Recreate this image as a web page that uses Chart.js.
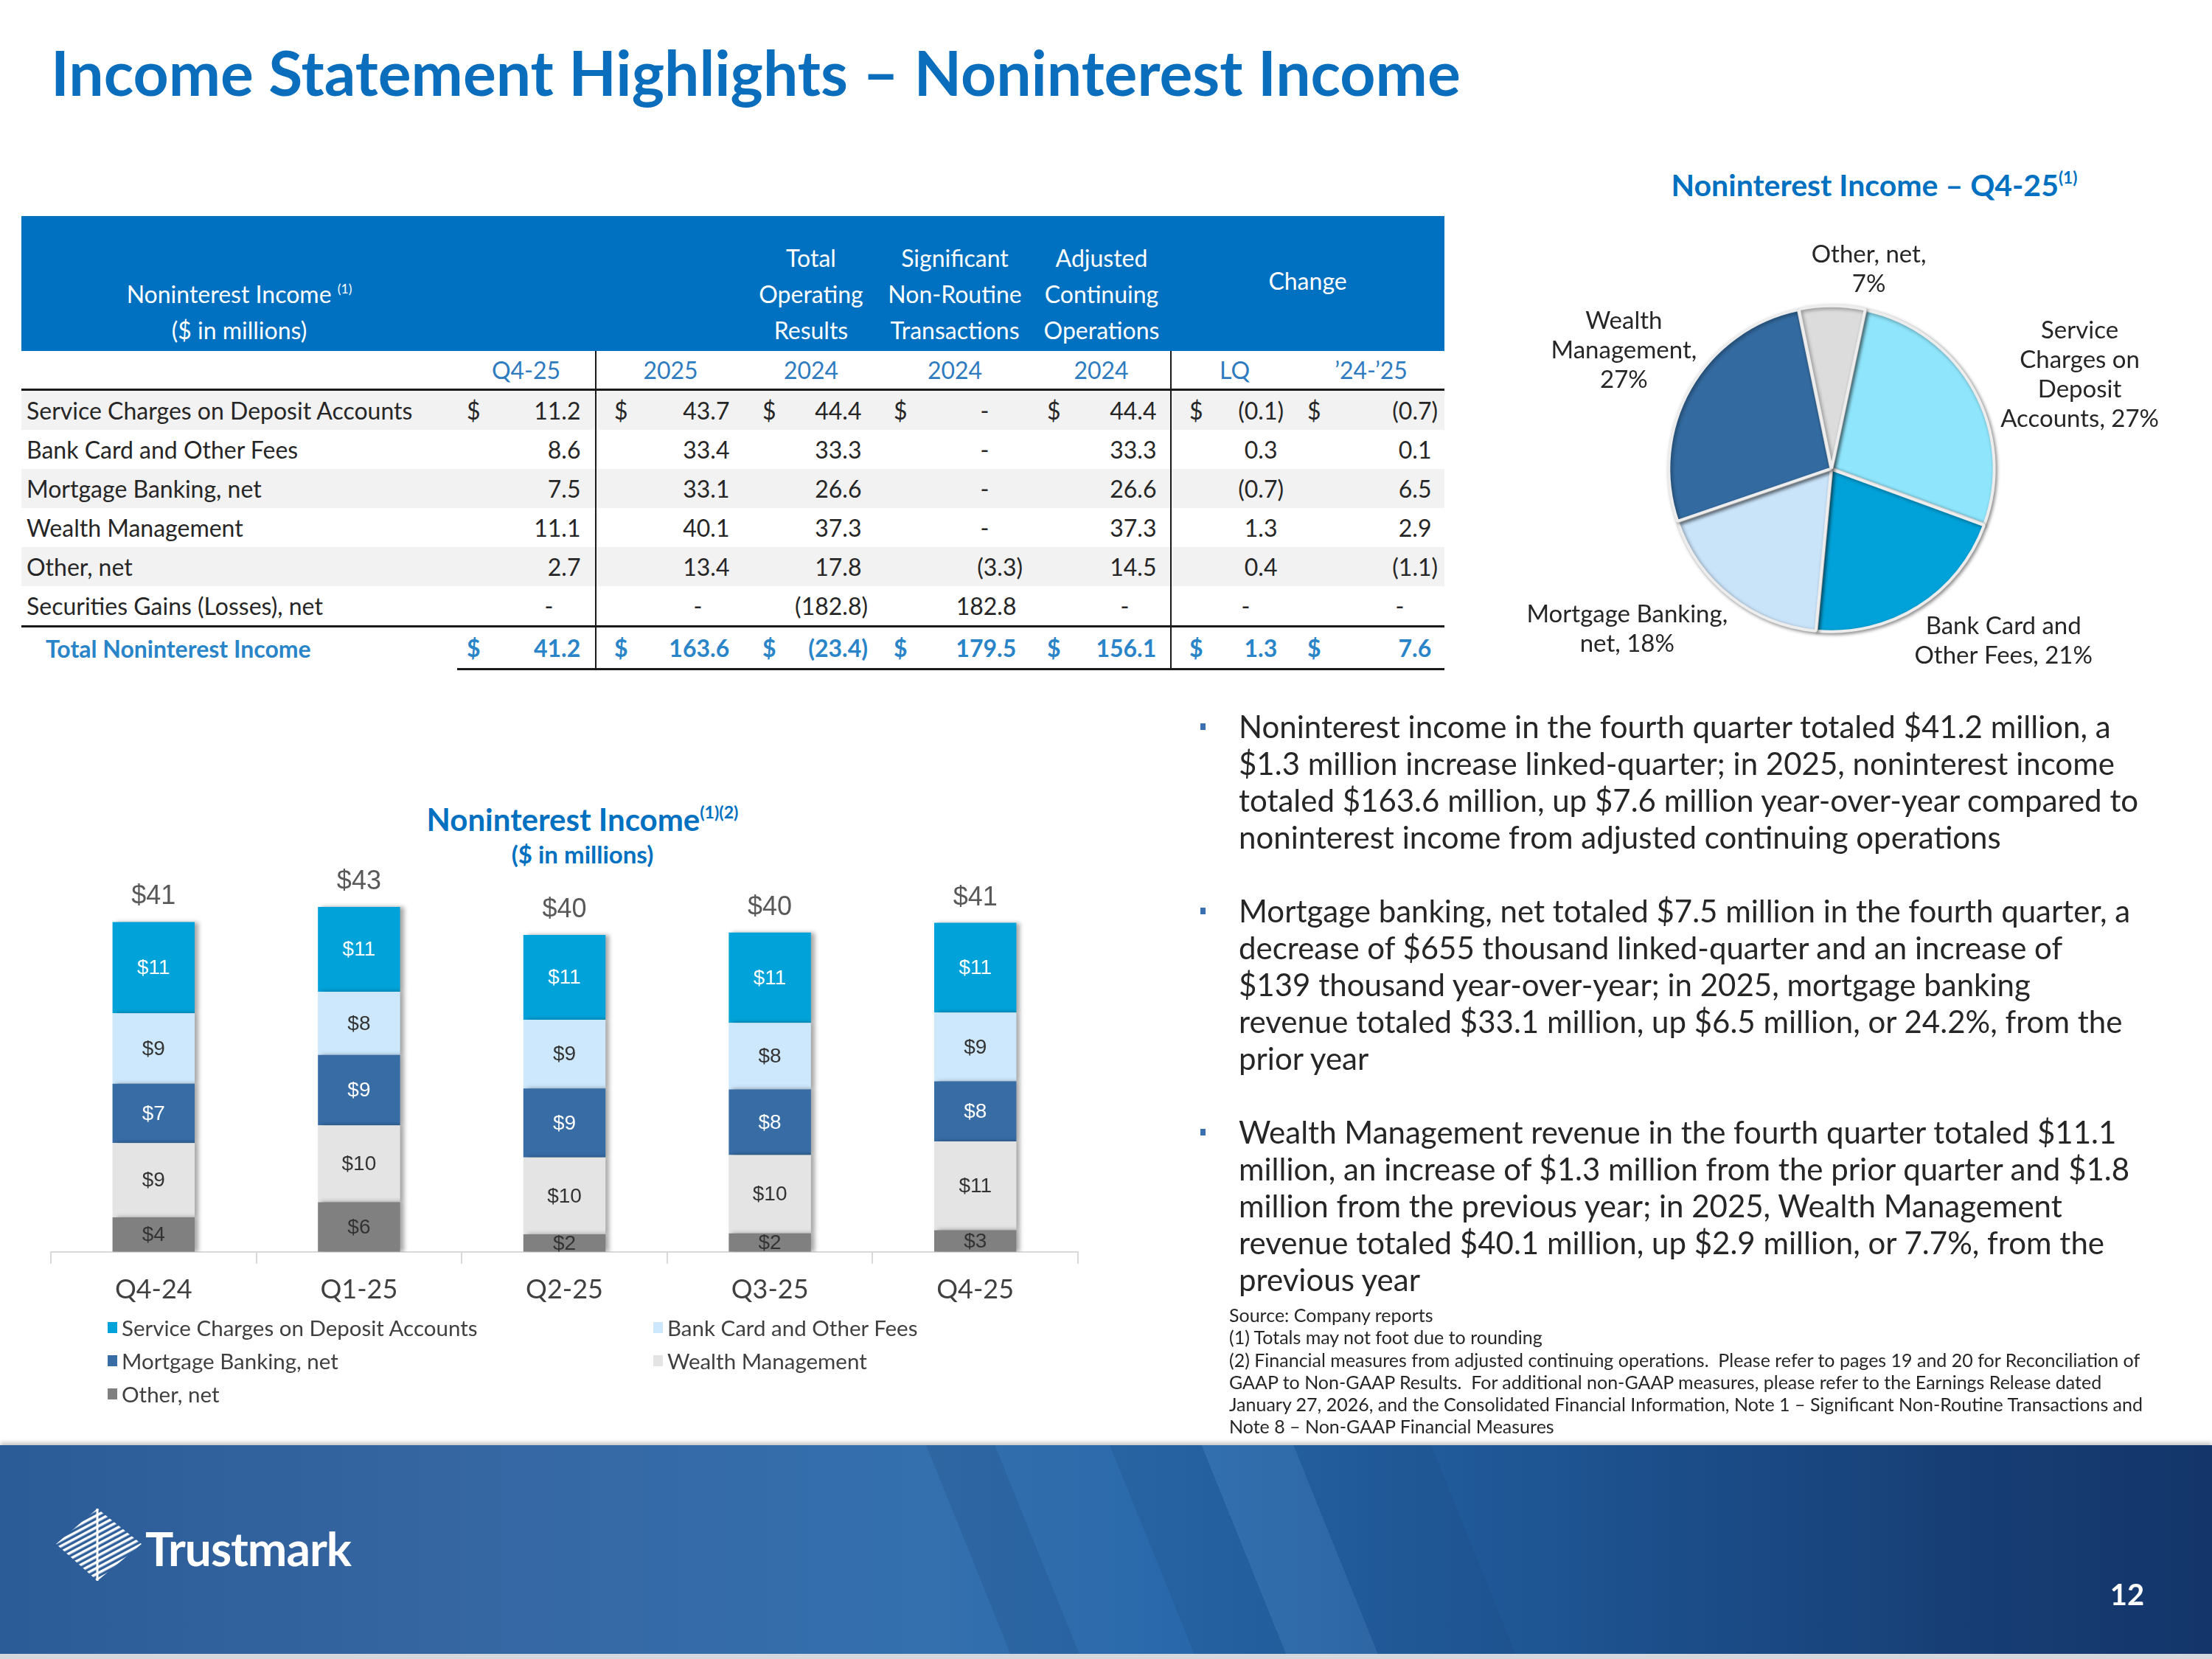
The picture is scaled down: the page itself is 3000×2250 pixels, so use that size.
<!DOCTYPE html>
<html>
<head>
<meta charset="utf-8">
<script src="https://cdn.jsdelivr.net/npm/chart.js@4.4.1/dist/chart.umd.min.js"></script>
<style>
  html, body { margin: 0; padding: 0; }
  body { width: 3000px; height: 2250px; position: relative; overflow: hidden; background: #fff;
         font-family: Lato, "Open Sans", sans-serif; color: #262626; }
  .abs { position: absolute; }
  .nw { white-space: nowrap; }
  #title { left: 69px; top: 48px; height: 100px; line-height: 100px; font-size: 84px; font-weight: 700; color: #0B6EBD; }
  sup.fn { font-size: 0.55em; vertical-align: 0.75em; line-height: 0; }

  /* table */
  #tbl { left: 29px; top: 293px; width: 1930px; border-collapse: collapse; table-layout: fixed; font-size: 32px; }
  #tbl td, #tbl th { padding: 0; white-space: nowrap; font-weight: 400; }
  #tbl tr.band th { background: #0070C0; color: #fff; line-height: 49px; vertical-align: bottom; padding-bottom: 4px; text-align: center; }
  #tbl tr.band { height: 183px; }
  #tbl tr.sub td { color: #2E7BC0; text-align: center; height: 51px; border-bottom: 3px solid #1a1a1a; }
  #tbl tr.row td { height: 53px; }
  #tbl tr.row.g td { background: #F2F2F2; }
  #tbl tr.row.last td { border-bottom: 3px solid #1a1a1a; }
  #tbl tr.tot td { height: 55px; color: #2A84C8; font-weight: 700; }
  #tbl tr.tot td.nb { border-bottom: 3px solid #1a1a1a; }
  #tbl td.lbl { padding-left: 7px; }
  #tbl tr.tot td.lbl { padding-left: 33px; }
  #tbl td.v { text-align: right; }
  #tbl .dl { border-left: 2px solid #1a1a1a; }
  .h { visibility: hidden; }

  .ctitle { color: #0070C0; font-weight: 700; text-align: center; }
  #legend { left: 146px; top: 1778px; width: 1400px; display: grid; grid-template-columns: 740px 600px;
            row-gap: 0; font-size: 29.5px; color: #404040; }
  #legend div { height: 45px; line-height: 45px; display: flex; align-items: center; }
  #legend span.sw { display: inline-block; width: 13px; height: 15px; margin-right: 6px; }

  #bullets { left: 1628px; top: 960px; font-size: 42px; line-height: 50px; color: #262626; }
  #bullets .b { position: relative; padding-left: 52px; margin-bottom: 50px; }
  #bullets .b::before { content: ""; position: absolute; left: 0; top: 21px; width: 7px; height: 9px; background: #3A70B0; }
  #notes { left: 1667px; top: 1768px; font-size: 25px; line-height: 30.3px; color: #262626; }

  #footer { left: 0; top: 1960px; width: 3000px; height: 283px;
            background:
              linear-gradient(68deg, rgba(255,255,255,0) 0 44%, rgba(20,60,110,0.18) 44% 47%, rgba(255,255,255,0) 47% 52%, rgba(20,60,110,0.16) 52% 56%, rgba(255,255,255,0.05) 56% 60%, rgba(20,60,110,0.14) 60% 66%, rgba(255,255,255,0) 66%),
              linear-gradient(90deg, #2C5C98 0%, #3566A2 20%, #3470AE 42%, #2767AA 55%, #1D528F 72%, #173F76 88%, #13356A 100%);
            box-shadow: 0 -3px 6px rgba(0,0,0,0.25); }
  #strip { left: 0; top: 2243px; width: 3000px; height: 7px; background: #D5D8DC; }
  #logo { left: 197px; top: 2064px; font-size: 64px; font-weight: 700; color: #fff; line-height: 72px; letter-spacing: -1px; }
  #page { left: 2850px; top: 2140px; width: 70px; text-align: center; font-size: 40px; font-weight: 700; color: #fff; line-height: 44px; }
</style>
</head>
<body>

<div id="title" class="abs nw">Income Statement Highlights – Noninterest Income</div>

<table id="tbl" class="abs">
  <colgroup>
    <col style="width:591px"><col style="width:40px"><col style="width:148px"><col style="width:52px"><col style="width:150px">
    <col style="width:50px"><col style="width:130px"><col style="width:50px"><col style="width:160px"><col style="width:45px">
    <col style="width:143px"><col style="width:52px"><col style="width:120px"><col style="width:40px"><col style="width:159px">
  </colgroup>
  <tbody id="tbody"></tbody>
</table>

<div class="abs ctitle nw" style="left:2242px;top:228px;width:600px;font-size:41px;line-height:46px;">Noninterest Income – Q4-25<sup class="fn">(1)</sup></div>
<canvas id="pie" class="abs" style="left:1984px;top:286px;" width="1000" height="700"></canvas>

<div class="abs ctitle nw" style="left:490px;top:1088px;width:600px;font-size:42px;line-height:46px;">Noninterest Income<sup class="fn">(1)(2)</sup></div>
<div class="abs ctitle nw" style="left:490px;top:1139px;width:600px;font-size:33px;line-height:38px;">($ in millions)</div>
<canvas id="bars" class="abs" style="left:40px;top:1140px;" width="1460" height="656"></canvas>
<div id="legend" class="abs"></div>

<div id="bullets" class="abs nw">
  <div class="b">Noninterest income in the fourth quarter totaled $41.2 million, a<br>$1.3 million increase linked-quarter; in 2025, noninterest income<br>totaled $163.6 million, up $7.6 million year-over-year compared to<br>noninterest income from adjusted continuing operations</div>
  <div class="b">Mortgage banking, net totaled $7.5 million in the fourth quarter, a<br>decrease of $655 thousand linked-quarter and an increase of<br>$139 thousand year-over-year; in 2025, mortgage banking<br>revenue totaled $33.1 million, up $6.5 million, or 24.2%, from the<br>prior year</div>
  <div class="b">Wealth Management revenue in the fourth quarter totaled $11.1<br>million, an increase of $1.3 million from the prior quarter and $1.8<br>million from the previous year; in 2025, Wealth Management<br>revenue totaled $40.1 million, up $2.9 million, or 7.7%, from the<br>previous year</div>
</div>

<div id="notes" class="abs nw">Source: Company reports<br>(1) Totals may not foot due to rounding<br>(2) Financial measures from adjusted continuing operations.&nbsp; Please refer to pages 19 and 20 for Reconciliation of<br>GAAP to Non-GAAP Results.&nbsp; For additional non-GAAP measures, please refer to the Earnings Release dated<br>January 27, 2026, and the Consolidated Financial Information, Note 1 – Significant Non-Routine Transactions and<br>Note 8 – Non-GAAP Financial Measures</div>

<div id="footer" class="abs"></div>
<div id="strip" class="abs"></div>
<svg class="abs" style="left:74px;top:2044px" width="122" height="102" viewBox="0 0 122 102">
  <defs>
    <pattern id="hatch" width="7" height="7" patternUnits="userSpaceOnUse" patternTransform="rotate(62)">
      <rect width="3.5" height="7" fill="#ffffff"/>
    </pattern>
  </defs>
  <polygon points="58,2 118,50 58,100 2,50" fill="url(#hatch)"/>
  <polyline points="58,2 58,100" stroke="#ffffff" stroke-width="3" fill="none"/>
</svg>
<div id="logo" class="abs nw">Trustmark</div>
<div id="page" class="abs">12</div>

<script>
// ---- table data ($ in millions) ----
const rowNames = ['Service Charges on Deposit Accounts', 'Bank Card and Other Fees', 'Mortgage Banking, net',
                  'Wealth Management', 'Other, net', 'Securities Gains (Losses), net'];
const q425 = [11.2, 8.6, 7.5, 11.1, 2.7, 0];
const fy2025 = [43.7, 33.4, 33.1, 40.1, 13.4, 0];
const fy2024Reported = [44.4, 33.3, 26.6, 37.3, 17.8, -182.8];
const fy2024NonRoutine = [0, 0, 0, 0, -3.3, 182.8];
const fy2024Adjusted = [44.4, 33.3, 26.6, 37.3, 14.5, 0];
const changeLQ = [-0.1, 0.3, -0.7, 1.3, 0.4, 0];
const changeYoY = [-0.7, 0.1, 6.5, 2.9, -1.1, 0];
const totalRow = [41.2, 163.6, -23.4, 179.5, 156.1, 1.3, 7.6];

// ---- bar chart data ----
const quarters = ['Q4-24', 'Q1-25', 'Q2-25', 'Q3-25', 'Q4-25'];
const serviceCharges = [11.4, 10.6, 10.6, 11.3, 11.2];
const bankCardFees = [8.8, 7.9, 8.6, 8.3, 8.6];
const mortgageBanking = [7.4, 8.8, 8.6, 8.2, 7.5];
const wealthMgmt = [9.3, 9.6, 9.6, 9.8, 11.1];
const otherNet = [4.3, 6.2, 2.2, 2.3, 2.7];

// ---- pie data (Q4-25) ----
const pieNames = ['Service Charges on Deposit Accounts', 'Bank Card and Other Fees', 'Mortgage Banking, net', 'Wealth Management', 'Other, net'];
const pieValues = [11.2, 8.6, 7.5, 11.1, 2.7];
const pieLabelLines = [
  ['Service', 'Charges on', 'Deposit', 'Accounts, {p}'],
  ['Bank Card and', 'Other Fees, {p}'],
  ['Mortgage Banking,', 'net, {p}'],
  ['Wealth', 'Management,', '{p}'],
  ['Other, net,', '{p}']
];

// build the table
function num(v) {
  if (v === 0) return '-<span class="h">00)</span>';
  if (v < 0) return '(' + Math.abs(v).toFixed(1) + ')';
  return v.toFixed(1) + '<span class="h">)</span>';
}
const divCols = [1, 5]; // value pairs that start with a divider line
let html = '';
html += '<tr class="band"><th style="text-align:center">Noninterest Income <sup class="fn">(1)</sup><br>($ in millions)</th>' +
        '<th colspan="2"></th><th colspan="2"></th>' +
        '<th colspan="2">Total<br>Operating<br>Results</th>' +
        '<th colspan="2">Significant<br>Non-Routine<br>Transactions</th>' +
        '<th colspan="2">Adjusted<br>Continuing<br>Operations</th>' +
        '<th colspan="4" style="vertical-align:middle;padding-bottom:8px">Change</th></tr>';
const subHeads = ['Q4-25', '2025', '2024', '2024', '2024', 'LQ', '’24-’25'];
html += '<tr class="sub"><td></td>' + subHeads.map((s, i) =>
  `<td colspan="2" class="${divCols.includes(i) ? 'dl' : ''}">${s}</td>`).join('') + '</tr>';

const dollarPad = [13, 24, 24, 22, 20, 24, 13];
const valuePad = [11, 12, 13, 13, 10, 19, 9];
const cols = [q425, fy2025, fy2024Reported, fy2024NonRoutine, fy2024Adjusted, changeLQ, changeYoY];
rowNames.forEach((name, r) => {
  const cls = 'row' + (r % 2 === 0 ? ' g' : '') + (r === rowNames.length - 1 ? ' last' : '');
  html += `<tr class="${cls}"><td class="lbl">${name}</td>`;
  cols.forEach((c, i) => {
    const dl = divCols.includes(i) ? ' dl' : '';
    html += `<td class="${dl}" style="padding-left:${dollarPad[i]}px">${r === 0 ? '$' : ''}</td>` +
            `<td class="v" style="padding-right:${valuePad[i]}px">${num(c[r])}</td>`;
  });
  html += '</tr>';
});
html += '<tr class="tot"><td class="lbl">Total Noninterest Income</td>';
totalRow.forEach((v, i) => {
  const dl = divCols.includes(i) ? ' dl' : '';
  html += `<td class="nb${dl}" style="padding-left:${dollarPad[i]}px">$</td>` +
          `<td class="v nb" style="padding-right:${valuePad[i]}px">${num(v)}</td>`;
});
html += '</tr>';
document.getElementById('tbody').innerHTML = html;

// ---- pie chart ----
const pieSpots = [[1.53, -0.58], [1.06, 1.06], [-1.26, 0.99], [-1.28, -0.73], [0.23, -1.23]];
const pieLabelPlugin = {
  id: 'pieLabelPlugin',
  beforeDatasetsDraw(chart) {
    const ctx = chart.ctx;
    ctx.save();
    ctx.shadowColor = 'rgba(0,0,0,0.4)';
    ctx.shadowBlur = 5;
    ctx.shadowOffsetX = 2;
    ctx.shadowOffsetY = 2;
  },
  afterDatasetsDraw(chart) {
    const ctx = chart.ctx;
    ctx.restore();
    const arc0 = chart.getDatasetMeta(0).data[0];
    const cx = arc0.x, cy = arc0.y, r = arc0.outerRadius;
    const vals = chart.data.datasets[0].data;
    const sum = vals.reduce((a, b) => a + b, 0);
    ctx.save();
    ctx.font = '33px Lato';
    ctx.fillStyle = '#262626';
    ctx.textAlign = 'center';
    ctx.textBaseline = 'middle';
    pieLabelLines.forEach((lines, i) => {
      const pct = Math.round(vals[i] / sum * 100) + '%';
      const x = cx + pieSpots[i][0] * r;
      const y = cy + pieSpots[i][1] * r;
      lines.forEach((t, k) => {
        ctx.fillText(t.replace('{p}', pct), x, y + (k - (lines.length - 1) / 2) * 40);
      });
    });
    ctx.restore();
  }
};

new Chart(document.getElementById('pie'), {
  type: 'pie',
  data: {
    labels: pieNames,
    datasets: [{
      data: pieValues,
      backgroundColor: ['#8FE5FB', '#00A2D9', '#C9E3F9', '#336A9F', '#DCDCDC'],
      borderColor: '#EDEDED',
      borderWidth: 4,
      offset: 3
    }]
  },
  options: {
    responsive: false,
    animation: false,
    rotation: 12,
    radius: 220,
    plugins: { legend: { display: false }, tooltip: { enabled: false } }
  },
  plugins: [pieLabelPlugin]
});

// ---- stacked bar chart ----
const barLabelPlugin = {
  id: 'barLabelPlugin',
  beforeDatasetsDraw(chart) {
    const ctx = chart.ctx;
    ctx.save();
    ctx.shadowColor = 'rgba(0,0,0,0.35)';
    ctx.shadowBlur = 6;
    ctx.shadowOffsetX = 5;
    ctx.shadowOffsetY = 0;
  },
  afterDatasetsDraw(chart) {
    const ctx = chart.ctx;
    ctx.restore();
    ctx.save();
    ctx.textAlign = 'center';
    ctx.textBaseline = 'middle';
    ctx.font = '28px "Liberation Sans", Arial, sans-serif';
    chart.data.datasets.forEach((ds, i) => {
      chart.getDatasetMeta(i).data.forEach((bar, j) => {
        const p = bar.getCenterPoint();
        ctx.fillStyle = ds.labelColor;
        ctx.fillText('$' + Math.round(ds.data[j]), p.x, p.y + 1);
      });
    });
    ctx.font = '36px "Liberation Sans", Arial, sans-serif';
    ctx.fillStyle = '#595959';
    const yScale = chart.scales.y;
    const topMeta = chart.getDatasetMeta(chart.data.datasets.length - 1);
    chart.data.labels.forEach((lab, j) => {
      const sum = chart.data.datasets.reduce((a, ds) => a + ds.data[j], 0);
      ctx.fillText('$' + Math.round(sum), topMeta.data[j].x, yScale.getPixelForValue(sum) - 34);
    });
    ctx.restore();
  }
};

const barChart = new Chart(document.getElementById('bars'), {
  type: 'bar',
  data: {
    labels: quarters,
    datasets: [
      { label: 'Other, net', data: otherNet, backgroundColor: '#808080', labelColor: '#333333' },
      { label: 'Wealth Management', data: wealthMgmt, backgroundColor: '#E4E4E4', labelColor: '#333333' },
      { label: 'Mortgage Banking, net', data: mortgageBanking, backgroundColor: '#376CA5', labelColor: '#ffffff' },
      { label: 'Bank Card and Other Fees', data: bankCardFees, backgroundColor: '#CDE8FD', labelColor: '#333333' },
      { label: 'Service Charges on Deposit Accounts', data: serviceCharges, backgroundColor: '#00A3D9', labelColor: '#ffffff' }
    ]
  },
  options: {
    responsive: false,
    animation: false,
    layout: { padding: { left: 29, right: 38, top: 15, bottom: 11 } },
    datasets: { bar: { barPercentage: 0.4, categoryPercentage: 1.0, borderWidth: 0 } },
    scales: {
      x: {
        stacked: true,
        grid: { display: true, drawOnChartArea: false, drawTicks: true, tickLength: 16, color: '#D9D9D9', lineWidth: 2, offset: true },
        border: { display: true, color: '#D9D9D9', width: 2 },
        ticks: { font: { family: 'Lato', size: 36 }, color: '#404040', padding: 14 }
      },
      y: { stacked: true, display: false, min: 0, max: 50 }
    },
    plugins: { legend: { display: false }, tooltip: { enabled: false } }
  },
  plugins: [barLabelPlugin]
});

// html legend, in the slide's order (top segment first), two columns
const legendEl = document.getElementById('legend');
barChart.data.datasets.slice().reverse().forEach(ds => {
  const d = document.createElement('div');
  d.innerHTML = `<span class="sw" style="background:${ds.backgroundColor}"></span>${ds.label}`;
  legendEl.appendChild(d);
});
</script>
</body>
</html>
